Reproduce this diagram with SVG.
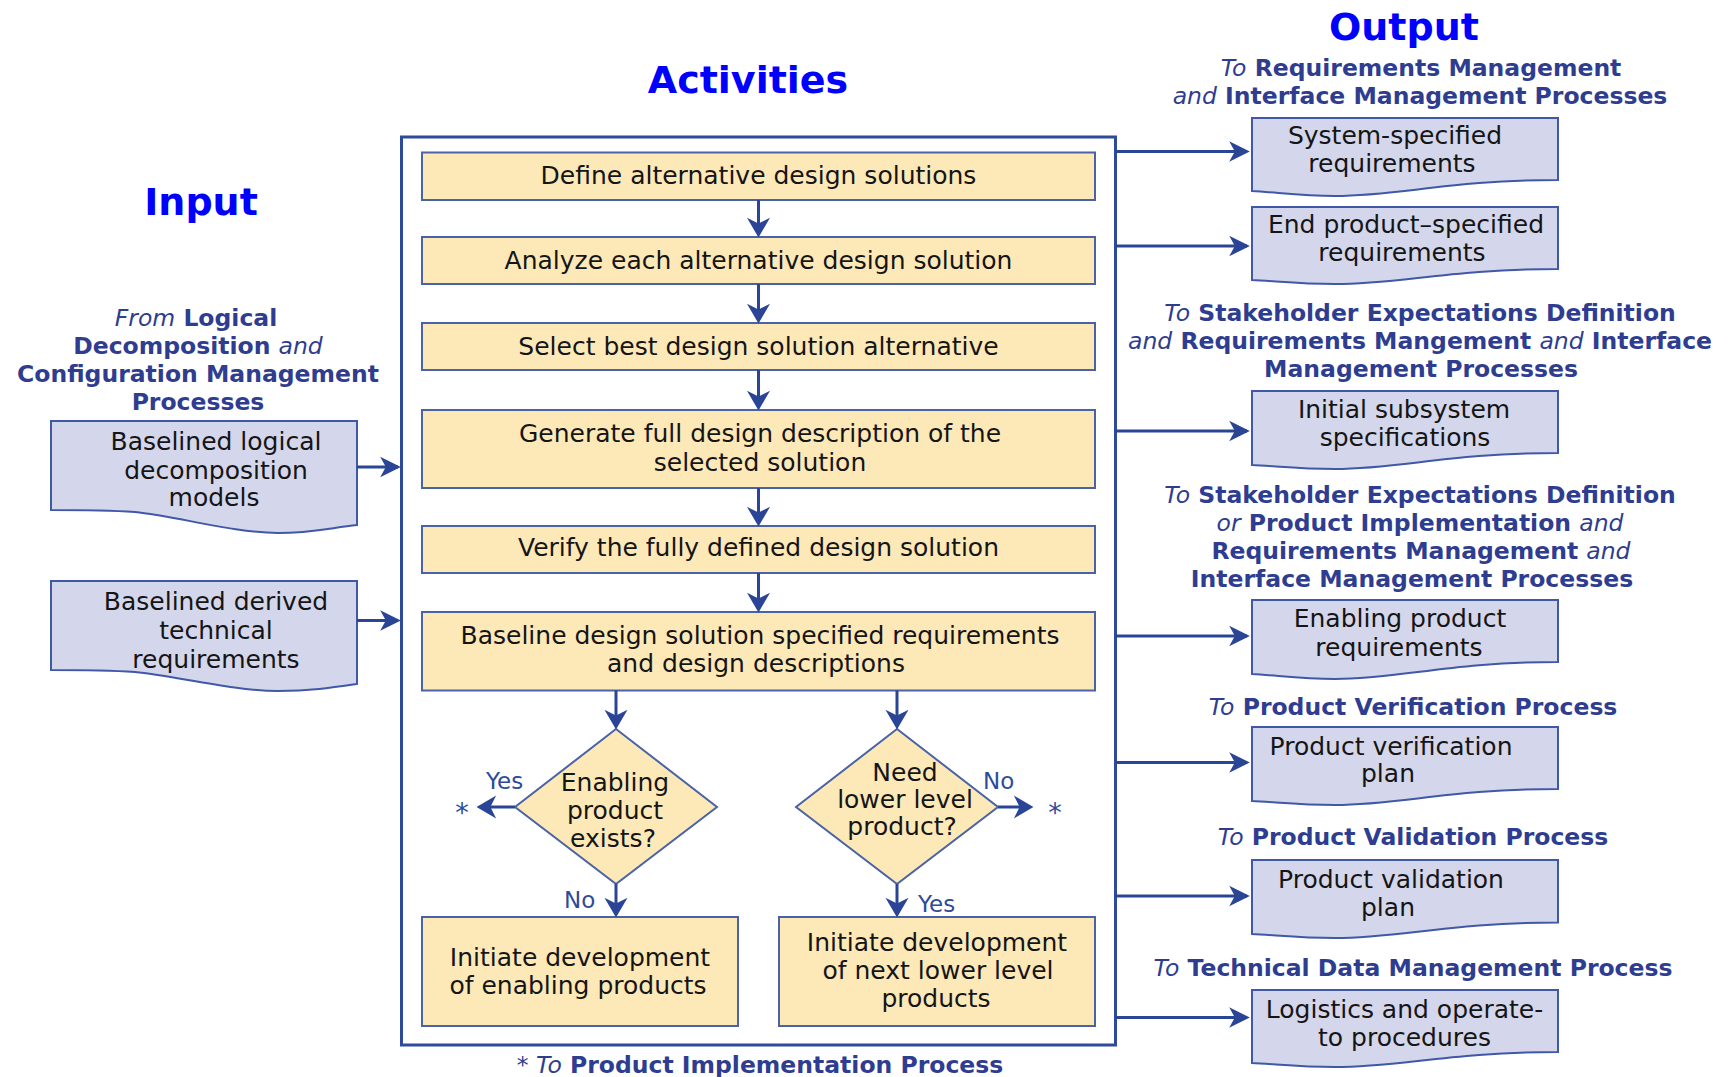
<svg xmlns="http://www.w3.org/2000/svg" width="1736" height="1077" viewBox="0 0 1736 1077">
<style>
.box{fill:#fde8b8;stroke:#4a63a6;stroke-width:2}
.doc{fill:#d4d6eb;stroke:#3f58a8;stroke-width:2}
.frame{fill:none;stroke:#2e4a9a;stroke-width:3}
.conn{stroke:#2b4596;stroke-width:3;fill:none}
.t{font-family:"DejaVu Sans",sans-serif;font-size:25px;fill:#151515;text-anchor:middle}
.h{font-family:"DejaVu Sans",sans-serif;font-size:23.5px;font-weight:bold;fill:#2e3d8f;text-anchor:middle}
.i{font-style:italic;font-weight:normal}
.title{font-family:"DejaVu Sans",sans-serif;font-weight:bold;font-size:38px;fill:#0000ff;text-anchor:middle}
.lbl{font-family:"DejaVu Sans",sans-serif;font-size:23px;fill:#2e4a9a}
.ast{font-family:"DejaVu Sans",sans-serif;font-size:27px;fill:#2e4a9a;text-anchor:middle}
</style>
<defs>
<marker id="a" markerUnits="userSpaceOnUse" markerWidth="30" markerHeight="30" viewBox="-20 -12 26 24" refX="-3" refY="0" orient="auto">
<path d="M0,0 L-17,-10 L-12,0 L-17,10 Z" fill="#2b4596"/>
</marker>
<marker id="b" markerUnits="userSpaceOnUse" markerWidth="30" markerHeight="30" viewBox="-26 -14 32 28" refX="-3" refY="0" orient="auto">
<path d="M0,0 L-22,-11 L-16,0 L-22,11 Z" fill="#2b4596"/>
</marker>
</defs>

<text class="title" x="748" y="93">Activities</text>
<text class="title" x="201" y="215">Input</text>
<text class="title" x="1404" y="40">Output</text>

<rect id="frame" class="frame" x="401.5" y="137" width="714" height="908"/>

<g id="n1"><rect class="box" x="422" y="152.5" width="673" height="47.5"/><text class="t" x="758.5" y="184">Define alternative design solutions</text></g>
<g id="n2"><rect class="box" x="422" y="237" width="673" height="47"/><text class="t" x="758.5" y="268.5">Analyze each alternative design solution</text></g>
<g id="n3"><rect class="box" x="422" y="323" width="673" height="47"/><text class="t" x="758.5" y="354.5">Select best design solution alternative</text></g>
<g id="n4"><rect class="box" x="422" y="410" width="673" height="78"/><text class="t" x="760" y="442">Generate full design description of the</text><text class="t" x="760" y="470.5">selected solution</text></g>
<g id="n5"><rect class="box" x="422" y="526" width="673" height="47"/><text class="t" x="758.5" y="556">Verify the fully defined design solution</text></g>
<g id="n6"><rect class="box" x="422" y="612" width="673" height="78.5"/><text class="t" x="760" y="643.5">Baseline design solution specified requirements</text><text class="t" x="756" y="672">and design descriptions</text></g>
<g id="d1"><path class="box" d="M616,729 L717,807 L616,884 L515,807 Z"/><text class="t" x="615" y="791">Enabling</text><text class="t" x="615" y="819">product</text><text class="t" x="613" y="846.5">exists?</text></g>
<g id="d2"><path class="box" d="M897,729 L998,807 L897,884 L796,807 Z"/><text class="t" x="905" y="781">Need</text><text class="t" x="905" y="808">lower level</text><text class="t" x="902" y="835">product?</text></g>
<g id="n7"><rect class="box" x="422" y="917" width="316" height="109"/><text class="t" x="580" y="966">Initiate development</text><text class="t" x="578" y="994">of enabling products</text></g>
<g id="n8"><rect class="box" x="779" y="917" width="316" height="109"/><text class="t" x="937" y="951">Initiate development</text><text class="t" x="938" y="979">of next lower level</text><text class="t" x="936" y="1006.5">products</text></g>

<g id="in-head"><text class="h" x="196" y="325.5"><tspan class="i">From</tspan> Logical</text><text class="h" x="198" y="354"><tspan>Decomposition</tspan> <tspan class="i">and</tspan></text><text class="h" x="198" y="382">Configuration Management</text><text class="h" x="198" y="410">Processes</text></g>
<g id="in1"><path class="doc" d="M51,421 H357 V525 C330,528 310,533 278,533 C235,533 175,516 135,512 C105,510 75,510 51,510 Z"/><text class="t" x="216" y="450">Baselined logical</text><text class="t" x="216" y="478.5">decomposition</text><text class="t" x="214" y="506">models</text></g>
<g id="in2"><path class="doc" d="M51,581 H357 V684 C330,688 310,691 278,691 C235,691 175,676 135,672 C105,670 75,670 51,670 Z"/><text class="t" x="216" y="610">Baselined derived</text><text class="t" x="216" y="639">technical</text><text class="t" x="216" y="667.5">requirements</text></g>

<g id="out-h1"><text class="h" x="1421" y="76"><tspan class="i">To</tspan> Requirements Management</text><text class="h" x="1420" y="103.5"><tspan class="i">and</tspan> Interface Management Processes</text></g>
<g id="out1"><path class="doc" d="M1252,118 H1558 V180 C1450,180 1400,196 1335,196 C1300,196 1275,192 1252,191 Z"/><text class="t" x="1395" y="143.5">System-specified</text><text class="t" x="1392" y="171.5">requirements</text></g>
<g id="out2"><path class="doc" d="M1252,207 H1558 V269 C1450,269 1400,284 1335,284 C1300,284 1275,281 1252,280 Z"/><text class="t" x="1406" y="232.5">End product–specified</text><text class="t" x="1402" y="261">requirements</text></g>
<g id="out-h2"><text class="h" x="1420" y="320.5"><tspan class="i">To</tspan> Stakeholder Expectations Definition</text><text class="h" x="1420" y="348.5"><tspan class="i">and</tspan> Requirements Mangement <tspan class="i">and</tspan> Interface</text><text class="h" x="1421" y="376.5">Management Processes</text></g>
<g id="out3"><path class="doc" d="M1252,391 H1558 V453 C1450,453 1400,469 1335,469 C1300,469 1275,466 1252,465 Z"/><text class="t" x="1404" y="417.5">Initial subsystem</text><text class="t" x="1405" y="446">specifications</text></g>
<g id="out-h3"><text class="h" x="1420" y="503"><tspan class="i">To</tspan> Stakeholder Expectations Definition</text><text class="h" x="1420" y="531"><tspan class="i">or</tspan> Product Implementation <tspan class="i">and</tspan></text><text class="h" x="1421" y="559">Requirements Management <tspan class="i">and</tspan></text><text class="h" x="1412" y="587">Interface Management Processes</text></g>
<g id="out4"><path class="doc" d="M1252,600 H1558 V662 C1450,662 1400,679 1335,679 C1300,679 1275,675 1252,674 Z"/><text class="t" x="1400" y="627">Enabling product</text><text class="t" x="1399" y="655.5">requirements</text></g>
<g id="out-h4"><text class="h" x="1413" y="715"><tspan class="i">To</tspan> Product Verification Process</text></g>
<g id="out5"><path class="doc" d="M1252,727 H1558 V789 C1450,789 1400,805 1335,805 C1300,805 1275,802 1252,801 Z"/><text class="t" x="1391" y="755">Product verification</text><text class="t" x="1388" y="781.5">plan</text></g>
<g id="out-h5"><text class="h" x="1413" y="844.5"><tspan class="i">To</tspan> Product Validation Process</text></g>
<g id="out6"><path class="doc" d="M1252,860 H1558 V922.5 C1450,922.5 1400,938 1335,938 C1300,938 1275,935 1252,934 Z"/><text class="t" x="1391" y="888">Product validation</text><text class="t" x="1388" y="916">plan</text></g>
<g id="out-h6"><text class="h" x="1413" y="975.5"><tspan class="i">To</tspan> Technical Data Management Process</text></g>
<g id="out7"><path class="doc" d="M1252,990 H1558 V1052 C1450,1052 1400,1067 1335,1067 C1300,1067 1275,1064 1252,1063 Z"/><text class="t" x="1404.5" y="1017.5">Logistics and operate-</text><text class="t" x="1404.5" y="1045.5">to procedures</text></g>

<g id="foot"><text class="h" x="760" y="1072.5"><tspan class="i">* To</tspan> Product Implementation Process</text></g>

<g id="connectors">
<line class="conn" x1="758.5" y1="200" x2="758.5" y2="234" marker-end="url(#a)"/>
<line class="conn" x1="758.5" y1="284" x2="758.5" y2="320" marker-end="url(#a)"/>
<line class="conn" x1="758.5" y1="370" x2="758.5" y2="407" marker-end="url(#a)"/>
<line class="conn" x1="758.5" y1="488" x2="758.5" y2="523" marker-end="url(#a)"/>
<line class="conn" x1="758.5" y1="573" x2="758.5" y2="609" marker-end="url(#a)"/>
<line class="conn" x1="616" y1="690.5" x2="616" y2="726" marker-end="url(#a)"/>
<line class="conn" x1="897" y1="690.5" x2="897" y2="726" marker-end="url(#a)"/>
<line class="conn" x1="515" y1="807" x2="480" y2="807" marker-end="url(#a)"/>
<line class="conn" x1="998" y1="807" x2="1030" y2="807" marker-end="url(#a)"/>
<line class="conn" x1="616" y1="884" x2="616" y2="914" marker-end="url(#a)"/>
<line class="conn" x1="897" y1="884" x2="897" y2="914" marker-end="url(#a)"/>
<line class="conn" x1="357" y1="467" x2="398" y2="467" marker-end="url(#b)"/>
<line class="conn" x1="357" y1="620.5" x2="398" y2="620.5" marker-end="url(#b)"/>
<line class="conn" x1="1115.5" y1="151.5" x2="1247" y2="151.5" marker-end="url(#b)"/>
<line class="conn" x1="1115.5" y1="246" x2="1247" y2="246" marker-end="url(#b)"/>
<line class="conn" x1="1115.5" y1="431" x2="1247" y2="431" marker-end="url(#b)"/>
<line class="conn" x1="1115.5" y1="636" x2="1247" y2="636" marker-end="url(#b)"/>
<line class="conn" x1="1115.5" y1="762.5" x2="1247" y2="762.5" marker-end="url(#b)"/>
<line class="conn" x1="1115.5" y1="896" x2="1247" y2="896" marker-end="url(#b)"/>
<line class="conn" x1="1115.5" y1="1017.5" x2="1247" y2="1017.5" marker-end="url(#b)"/>
<text class="lbl" x="486" y="789">Yes</text>
<text class="ast" x="462" y="822">*</text>
<text class="lbl" x="983" y="789">No</text>
<text class="ast" x="1055" y="822">*</text>
<text class="lbl" x="564" y="908">No</text>
<text class="lbl" x="918" y="912">Yes</text>
</g>
</svg>
